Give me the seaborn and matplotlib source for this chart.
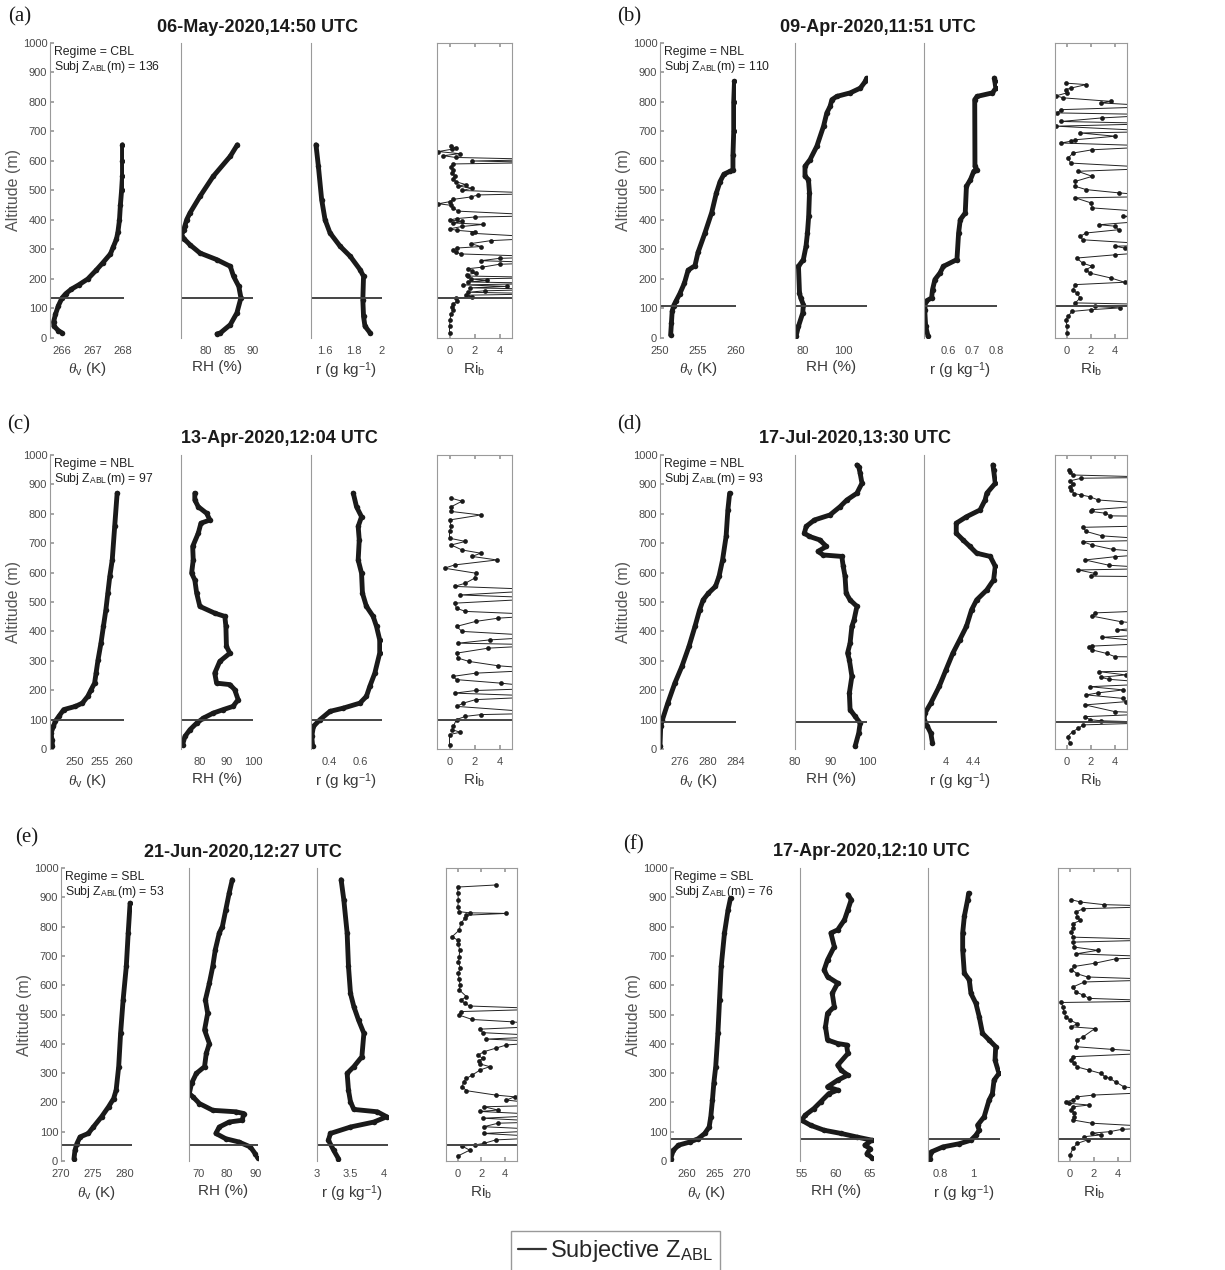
import numpy as np
import matplotlib
matplotlib.use('Agg')
import matplotlib.pyplot as plt
from matplotlib.lines import Line2D
import seaborn as sns

sns.set_theme(style='white')
plt.rcParams['font.family'] = ['Liberation Sans', 'DejaVu Sans']
plt.rcParams['mathtext.fontset'] = 'custom'
plt.rcParams['mathtext.rm'] = 'Liberation Sans'
plt.rcParams['mathtext.it'] = 'Liberation Serif:italic'
plt.rcParams['mathtext.bf'] = 'Liberation Sans:bold'

# ---- data: (altitude m, value) ----
titles = ['06-May-2020,14:50 UTC', '09-Apr-2020,11:51 UTC', '13-Apr-2020,12:04 UTC',
          '17-Jul-2020,13:30 UTC', '21-Jun-2020,12:27 UTC', '17-Apr-2020,12:10 UTC']
letters = ['(a)', '(b)', '(c)', '(d)', '(e)', '(f)']
regimes = ['CBL', 'NBL', 'NBL', 'NBL', 'SBL', 'SBL']
z_abl = [136, 110, 97, 93, 53, 76]

a_th = [(17,266.0),(25,265.88),(40,265.73),(55,265.72),(80,265.78),(110,265.88),(136,266.0),(150,266.12),
        (165,266.3),(180,266.55),(200,266.85),(230,267.13),(255,267.35),(285,267.6),(310,267.7),(335,267.8),
        (360,267.85),(400,267.9),(450,267.93),(500,267.97),(550,268.0),(600,268.0),(655,268.0)]
a_rh = [(14,82.4),(17,83.1),(45,85.2),(85,86.6),(136,87.45),(175,87.0),(209,85.9),(243,85.2),(266,82.3),
        (288,78.8),(316,76.7),(335,75.5),(350,74.9),(365,75.4),(379,75.6),(401,76.0),(424,76.7),(480,78.8),
        (548,81.6),(616,85.2),(655,86.7)]
a_r = [(17,1.917),(40,1.88),(73,1.87),(130,1.865),(209,1.87),(232,1.845),(277,1.776),(311,1.705),
       (356,1.634),(401,1.599),(469,1.575),(582,1.552),(655,1.535)]
a_ri = [(17,0.0),(40,0.0),(60,0.05),(80,0.1),(95,0.3),(105,0.2),(115,0.3),(125,0.6),(135,0.5),(140,1.8),
        (145,1.3),(150,8),(155,1.5),(160,2.8),(165,8),(170,1.6),(175,4.6),(180,1.1),(185,8),(190,1.5),
        (195,3.0),(200,1.7),(205,8),(210,1.5),(215,1.4),(220,2.1),(228,1.8),(235,1.5),(240,2.6),(250,4.0),
        (255,8),(262,2.5),(270,4.0),(275,8),(285,0.9),(292,0.5),(298,0.3),(305,0.6),(310,2.5),(320,1.7),
        (330,3.3),(340,8),(355,1.8),(360,2.0),(365,0.6),(370,0.0),(378,1.0),(385,2.7),(390,0.3),(395,1.0),
        (400,0.0),(405,0.6),(410,2.0),(415,8),(430,0.7),(440,0.3),(450,0.1),(455,-0.9),(462,0.0),(470,0.3),
        (478,1.7),(485,2.3),(490,8),(500,1.0),(508,1.8),(515,0.7),(520,1.3),(530,0.5),(540,0.3),(550,0.4),
        (560,0.2),(570,0.3),(580,0.1),(590,0.3),(595,8),(600,1.8),(605,8),(612,0.5),(618,-0.5),(625,0.8),
        (632,-0.9),(640,0.2),(645,0.5),(650,0.1)]

b_th = [(10,251.4),(50,251.5),(90,251.6),(110,251.8),(125,252.1),(150,252.6),(185,253.2),(230,253.7),
        (245,254.6),(290,255.0),(355,255.9),(425,256.8),(490,257.4),(530,257.9),(555,258.4),(565,259.2),
        (570,259.6),(620,259.6),(700,259.7),(800,259.7),(870,259.8)]
b_rh = [(6,76.7),(40,77.9),(85,80.0),(113,80.3),(136,79.0),(153,78.4),(243,77.9),(266,80.3),(311,81.6),
        (356,82.3),(412,82.9),(492,83.3),(537,82.8),(548,81.1),(582,81.1),(605,83.6),(650,86.9),(718,90.2),
        (763,91.8),(785,93.4),(808,94.3),(819,96.7),(831,103.3),(847,108.2),(870,110.7),(881,111.3)]
b_r = [(6,0.514),(40,0.504),(96,0.5),(124,0.504),(136,0.529),(164,0.533),(198,0.543),(220,0.564),
       (243,0.579),(266,0.636),(356,0.643),(401,0.65),(424,0.671),(514,0.676),(537,0.693),(565,0.707),
       (570,0.721),(582,0.712),(808,0.711),(819,0.721),(831,0.786),(847,0.8),(870,0.796),(881,0.794)]
b_ri = [(17,0),(40,0),(62,-0.1),(73,0.1),(90,0.4),(96,2.0),(102,4.4),(107,2.3),(113,8),(119,0.7),
        (136,1.1),(153,0.8),(164,0.5),(181,0.7),(189,4.8),(203,3.7),(220,1.9),(232,1.6),(243,2.1),(254,1.3),
        (271,0.8),(282,4.0),(294,8),(305,4.8),(311,4.0),(316,8),(333,1.3),(345,1.1),(356,1.6),(367,4.3),
        (379,4.0),(384,2.7),(401,8),(412,4.7),(424,8),(441,2.1),(458,2.0),(475,0.7),(480,8),(492,4.3),
        (503,1.6),(514,0.7),(531,0.7),(548,2.1),(565,0.9),(576,8),(593,0.3),(610,0.1),(627,0.5),(638,2.1),
        (650,8),(661,-0.5),(667,0.3),(672,0.7),(684,4.0),(695,1.1),(700,8),(718,-0.9),(727,8),(734,-0.5),
        (746,2.9),(757,8),(763,-0.8),(774,-0.5),(785,8),(797,2.8),(802,3.7),(814,-0.3),(821,-0.9),(831,0),
        (842,-0.1),(847,0.3),(859,1.6),(864,-0.1)]

c_th = [(9,245.4),(32,245.3),(54,245.1),(77,245.6),(94,245.97),(111,246.7),(134,247.7),(145,250.1),
        (156,251.5),(179,252.6),(202,253.3),(224,254.0),(258,254.3),(303,254.7),(360,255.3),(417,255.8),
        (473,256.3),(530,256.7),(587,257.1),(643,257.6),(757,258.1),(870,258.6)]
c_rh = [(15,73.5),(43,74.4),(66,76.3),(88,78.8),(105,81.3),(122,85.0),(134,88.8),(145,92.5),(168,94.4),
        (202,93.1),(219,91.3),(224,86.3),(258,85.6),(298,87.5),(326,91.3),(349,90.0),(417,89.8),(451,89.4),
        (462,85.6),(485,80.0),(530,78.8),(575,78.1),(598,76.9),(643,77.5),(689,77.3),(734,79.4),(768,80.4),
        (779,83.8),(802,82.5),(824,79.4),(847,78.1),(870,78.1)]
c_r = [(9,0.291),(43,0.285),(77,0.296),(100,0.339),(128,0.404),(139,0.491),(156,0.6),(179,0.643),
       (213,0.665),(258,0.698),(326,0.73),(371,0.73),(417,0.709),(451,0.687),(485,0.643),(530,0.617),
       (598,0.611),(643,0.589),(711,0.596),(757,0.589),(790,0.611),(824,0.578),(870,0.557)]
c_ri = [(15,0),(49,0),(57,0.85),(66,0.2),(77,0.3),(100,0.56),(111,1.27),(117,2.5),(122,8),(145,0.56),
        (156,1.1),(168,2.1),(179,8),(190,0.4),(199,2.1),(207,8),(224,4.1),(236,0.56),(247,0.28),(258,2.1),
        (270,8),(283,3.9),(298,1.55),(309,0.7),(326,0.56),(343,3.1),(354,8),(360,0.7),(371,3.2),(383,8),
        (400,1.0),(417,0.56),(434,2.1),(445,3.9),(456,8),(468,1.27),(479,0.56),(496,0.4),(513,8),(524,0.85),
        (541,8),(553,0.4),(564,1.27),(581,2.0),(598,2.1),(615,-0.4),(626,0.4),(643,3.8),(655,1.8),(666,2.5),
        (677,1.0),(694,0.14),(706,1.27),(717,0),(740,0),(757,0.14),(779,0),(796,2.5),(808,0.14),(824,0.14),
        (843,1.0),(853,0.14)]

d_th = [(9,273.25),(77,273.35),(100,273.6),(156,274.35),(224,275.35),(281,276.35),(349,277.35),
        (417,278.2),(473,278.85),(507,279.35),(530,280.1),(553,281.1),(587,281.6),(643,282.1),(723,282.6),
        (813,282.85),(870,283.1)]
d_rh = [(9,96.7),(54,97.7),(88,98.1),(111,96.7),(134,95.3),(190,95.1),(247,95.8),(303,95.1),(326,94.6),
        (360,95.3),(417,95.8),(439,96.4),(485,97.2),(507,95.3),(530,94.2),(587,93.9),(621,93.4),(655,93.0),
        (660,87.8),(672,86.4),(689,88.7),(711,86.9),(723,84.0),(734,82.6),(757,83.1),(779,85.4),(796,89.7),
        (824,92.5),(847,94.4),(870,97.2),(904,98.6),(938,98.1),(960,97.7),(966,97.2)]
d_r = [(20,3.8),(54,3.775),(77,3.725),(100,3.675),(122,3.69),(156,3.775),(213,3.9),(270,4.0),(326,4.1),
       (371,4.2),(417,4.3),(473,4.375),(507,4.45),(541,4.6),(575,4.7),(621,4.725),(655,4.65),(666,4.45),
       (689,4.35),(711,4.25),(734,4.15),(768,4.15),(790,4.3),(813,4.5),(847,4.575),(870,4.6),(904,4.725),
       (949,4.7),(966,4.69)]
d_ri = [(19,0.24),(42,0.05),(59,0.47),(70,0.94),(82,1.36),(90,8),(96,2.8),(100,1.9),(110,1.5),(121,8),
        (127,4.0),(150,1.5),(161,4.9),(172,4.7),(184,1.6),(191,2.6),(201,4.7),(212,1.9),(223,8),(237,3.5),
        (244,2.8),(252,4.9),(263,2.7),(266,8),(312,8),(314,4.0),(325,3.3),(337,2.1),(346,1.8),(350,2.1),
        (361,8),(380,2.9),(391,8),(405,4.2),(419,8),(433,4.5),(452,2.1),(463,2.35),(472,8),(586,8),(588,2.0),
        (597,2.35),(609,0.94),(614,8),(625,3.5),(643,1.5),(654,4.0),(666,8),(679,3.8),(694,2.1),(705,1.3),
        (711,8),(725,2.9),(740,1.6),(754,1.3),(760,8),(791,8),(793,3.6),(802,3.2),(808,2.0),(814,2.1),
        (831,8),(847,2.6),(858,1.9),(864,1.2),(869,0.6),(880,0.35),(892,0.24),(903,0.47),(912,0.24),
        (921,1.2),(924,8),(932,0.47),(943,0.24),(949,0.2)]

e_th = [(8,272.05),(36,272.2),(59,272.5),(82,273.0),(94,274.3),(116,275.1),(151,276.4),(185,277.5),
        (213,278.3),(242,278.7),(322,279.1),(436,279.4),(550,279.8),(664,280.3),(778,280.6),(880,280.9)]
e_rh = [(11,90.9),(25,90.0),(48,88.3),(65,84.2),(76,79.6),(94,76.1),(116,77.3),(133,80.8),(139,85.4),
        (162,86.0),(168,83.1),(173,75.0),(196,70.3),(219,68.0),(230,66.7),(265,67.5),(299,69.2),(322,72.1),
        (367,72.7),(401,73.8),(447,72.1),(504,73.2),(550,72.4),(607,73.8),(664,75.0),(721,75.9),(778,77.3),
        (800,78.4),(857,79.6),(914,80.8),(960,81.9)]
e_r = [(8,3.32),(36,3.25),(71,3.17),(94,3.2),(116,3.5),(133,3.85),(151,4.04),(168,3.9),(176,3.55),
       (202,3.5),(242,3.47),(299,3.45),(322,3.55),(356,3.67),(436,3.7),(481,3.62),(527,3.55),(572,3.5),
       (664,3.47),(778,3.45),(892,3.4),(960,3.36)]
e_ri = [(17,0),(37,1.0),(51,0.36),(55,1.45),(60,2.2),(72,3.2),(81,8),(94,2.2),(106,8),(117,2.2),
        (129,3.4),(134,8),(146,2.1),(157,8),(169,1.9),(174,3.4),(185,2.2),(191,8),(208,4.1),(219,4.8),
        (225,3.2),(240,0.73),(254,0.36),(271,0.5),(282,0.73),(293,1.2),(311,1.9),(322,2.7),(331,1.9),
        (342,1.8),(350,2.1),(361,1.7),(373,2.2),(385,3.2),(396,4.1),(407,8),(416,2.4),(426,8),(438,2.1),
        (450,1.9),(461,8),(475,4.6),(483,1.2),(498,0.12),(510,0.24),(519,8),(529,1.0),(538,0.6),(549,0.24),
        (561,0.73),(584,0.12),(600,0.2),(620,0.1),(641,0.05),(660,0.2),(680,0.05),(697,0.12),(720,0.15),
        (740,0.05),(754,0),(765,-0.5),(788,0.12),(811,0.24),(828,0.6),(839,0.73),(845,4.1),(847,1.0),
        (851,0.12),(868,0),(890,0.05),(913,0),(935,0),(942,3.2)]

f_th = [(8,256.97),(36,257.45),(54,258.4),(65,260.5),(76,262.0),(94,263.2),(116,264.0),(151,264.3),
        (208,264.6),(265,264.85),(322,265.2),(436,265.6),(550,265.9),(664,266.2),(778,266.8),(857,267.45),
        (897,267.9)]
f_rh = [(11,65.35),(25,64.6),(42,65.1),(54,64.3),(71,65.35),(82,63.1),(94,60.8),(105,58.3),(122,56.3),
        (139,55.0),(156,55.5),(179,56.8),(202,57.8),(230,59.0),(242,60.3),(253,58.8),(276,60.3),(293,61.8),
        (310,60.8),(327,60.3),(367,61.8),(396,61.6),(401,60.3),(413,58.8),(458,58.5),(504,58.8),(527,59.8),
        (572,59.5),(607,60.3),(629,58.8),(652,58.3),(686,58.8),(732,59.8),(778,59.3),(789,60.3),(823,61.3),
        (857,61.8),(892,62.3),(909,61.8)]
f_r = [(8,0.734),(31,0.744),(48,0.814),(59,0.914),(71,0.984),(88,1.014),(105,1.034),(122,1.024),
       (151,1.064),(208,1.094),(230,1.114),(276,1.124),(299,1.154),(344,1.13),(390,1.134),(413,1.094),
       (436,1.054),(493,1.034),(538,1.014),(572,0.984),(618,0.974),(641,0.944),(721,0.934),(778,0.934),
       (835,0.944),(892,0.964),(914,0.97)]
f_ri = [(20,0),(43,0.24),(60,0.6),(72,1.46),(83,1.2),(89,2.56),(95,1.8),(100,3.3),(108,4.3),(115,8),
        (129,1.8),(140,0.24),(151,0.37),(163,0.37),(174,0.12),(185,0.24),(191,1.6),(197,-0.12),(202,-0.37),
        (208,0.24),(219,0.6),(225,1.95),(236,8),(253,4.5),(270,3.8),(282,3.3),(288,2.9),(299,2.56),(310,1.6),
        (321,0.6),(333,0.37),(344,0.12),(356,0.24),(370,8),(381,3.5),(390,0.5),(413,0.6),(424,1.1),
        (452,2.07),(458,0.12),(469,0.6),(481,0),(492,-0.37),(509,-0.49),(526,-0.6),(541,-0.73),(546,8),
        (555,1.6),(566,1.1),(577,0.5),(594,0.24),(611,1.2),(619,8),(628,1.46),(639,0.6),(653,0.12),
        (664,0.37),(675,2.07),(690,3.8),(696,8),(707,0.5),(719,2.3),(730,0.37),(747,0.24),(755,8),
        (764,0.24),(781,0.12),(796,0.24),(810,0.24),(821,0.85),(833,0.6),(850,0.5),(861,1.1),(869,8),
        (875,2.8),(884,0.85),(892,0.12)]

xlims = {
    'a': [(265.6, 268.05), (74.8, 90), (1.5, 2.0)],
    'b': [(250, 260), (76.2, 111.5), (0.497, 0.805)],
    'c': [(244.9, 260), (72.9, 100), (0.28, 0.745)],
    'd': [(273.25, 284), (80, 100), (3.675, 4.75)],
    'e': [(270, 281.2), (66.6, 91), (3, 4.06)],
    'f': [(256.85, 270), (54.75, 65.5), (0.724, 1.16)],
}
xticks = {
    'a': [[266, 267, 268], [80, 85, 90], [1.6, 1.8, 2]],
    'b': [[250, 255, 260], [80, 100], [0.6, 0.7, 0.8]],
    'c': [[250, 255, 260], [80, 90, 100], [0.4, 0.6]],
    'd': [[276, 280, 284], [80, 90, 100], [4, 4.4]],
    'e': [[270, 275, 280], [70, 80, 90], [3, 3.5, 4]],
    'f': [[260, 265, 270], [55, 60, 65], [0.8, 1]],
}
profiles = {
    'a': [a_th, a_rh, a_r, a_ri], 'b': [b_th, b_rh, b_r, b_ri], 'c': [c_th, c_rh, c_r, c_ri],
    'd': [d_th, d_rh, d_r, d_ri], 'e': [e_th, e_rh, e_r, e_ri], 'f': [f_th, f_rh, f_r, f_ri],
}
xlabels = ['$\\theta_{\\rm v}$ (K)', 'RH (%)', 'r (g kg$^{-1}$)', 'Ri$_{\\rm b}$']

# ---- layout in pixels ----
W, H = 1225, 1270
rows = [(43, 338), (455, 749), (868, 1161)]
cols_left = [(50, 124), (181, 253), (311, 382), (437, 512)]
cols_left3 = [(61, 132), (189, 258), (317, 388), (446, 517)]
cols_right = [(660, 736), (795, 867), (924, 997), (1055, 1127)]
cols_right3 = [(670, 742), (800, 873), (928, 1000), (1058, 1130)]
title_pos = [(258, 28), (878, 28), (279, 439), (855, 439), (243, 852), (871, 852)]
letter_pos = [(8, 17), (617, 17), (7, 425), (617, 425), (15, 838), (623, 845)]

GRAY = '#9a9a9a'
TXT = '#4a4a4a'

fig = plt.figure(figsize=(W / 100, H / 100), dpi=100)


def rect(l, r, t, b):
    return [l / W, 1 - b / H, (r - l) / W, (b - t) / H]


for k, key in enumerate('abcdef'):
    top, bot = rows[k // 2]
    if k // 2 < 2:
        cols = cols_left if k % 2 == 0 else cols_right
    else:
        cols = cols_left3 if k % 2 == 0 else cols_right3
    for j in range(4):
        l, r = cols[j]
        ax = fig.add_axes(rect(l, r, top, bot))
        pts = np.array(profiles[key][j], dtype=float)
        if j < 3:
            sns.lineplot(x=pts[:, 1], y=pts[:, 0], sort=False, estimator=None, ax=ax,
                         color='k', lw=3.5, marker='o', markersize=4, markeredgewidth=0)
            ax.set_xlim(*xlims[key][j])
            ticks = xticks[key][j]
            for s in ['top', 'right', 'bottom']:
                ax.spines[s].set_visible(False)
            ax.tick_params(axis='x', length=0, pad=6, labelsize=8, labelcolor=TXT)
        else:
            sns.lineplot(x=pts[:, 1], y=pts[:, 0], sort=False, estimator=None, ax=ax,
                         color='#222222', lw=0.7, marker='o', markersize=3.4,
                         markeredgewidth=0, markerfacecolor='k')
            ax.set_xlim(-1, 5)
            ticks = [0, 2, 4]
            for s in ['top', 'right', 'bottom']:
                ax.spines[s].set_visible(True)
                ax.spines[s].set_color(GRAY)
                ax.spines[s].set_linewidth(0.8)
            ax.tick_params(axis='x', direction='in', length=3, color=GRAY, top=True, bottom=True,
                           pad=6, labelsize=8, labelcolor=TXT)
        ax.spines['left'].set_color(GRAY)
        ax.spines['left'].set_linewidth(0.8)
        ax.set_xticks(ticks)
        ax.set_xticklabels([f'{t:g}' for t in ticks])
        ax.axhline(z_abl[k], color='#444444', lw=1.4)
        ax.set_ylim(0, 1000)
        ax.set_xlabel(xlabels[j], fontsize=11, color='#3a3a3a', labelpad=3)
        if j == 0:
            ax.set_yticks(range(0, 1001, 100))
            ax.tick_params(axis='y', direction='in', length=3, color=GRAY, left=True,
                           pad=2, labelsize=8, labelcolor=TXT)
            ax.set_ylabel('Altitude (m)', fontsize=11.5, color='#555555', labelpad=1)
            ax.text(0.055, 1 - 9 / 295, f'Regime = {regimes[k]}', transform=ax.transAxes,
                    fontsize=8.8, color='#222222', va='center', ha='left')
            ax.text(0.055, 1 - 24 / 295, f'Subj Z$_{{\\rm ABL}}$(m) = {z_abl[k]}',
                    transform=ax.transAxes, fontsize=8.8, color='#222222', va='center', ha='left')
        else:
            ax.set_yticks([])
            ax.set_ylabel('')
    tx, ty = title_pos[k]
    fig.text(tx / W, 1 - ty / H, titles[k], ha='center', va='center', fontsize=13,
             fontweight='bold', color='k')
    lx, ly = letter_pos[k]
    fig.text(lx / W, 1 - ly / H, letters[k], ha='left', va='center', fontsize=15,
             family=['Liberation Serif', 'DejaVu Serif'], color='k')

handle = Line2D([], [], color='#333333', lw=1.6)
fig.legend([handle], ['Subjective Z$_{\\rm ABL}$'], loc='upper center',
           bbox_to_anchor=(615.5 / W, 1 - 1231 / H), frameon=True, fancybox=False,
           edgecolor='#999999', framealpha=1, fontsize=17, handlelength=1.2,
           handletextpad=0.15, borderpad=0.3, borderaxespad=0)

fig.savefig('out.png', dpi=100)
